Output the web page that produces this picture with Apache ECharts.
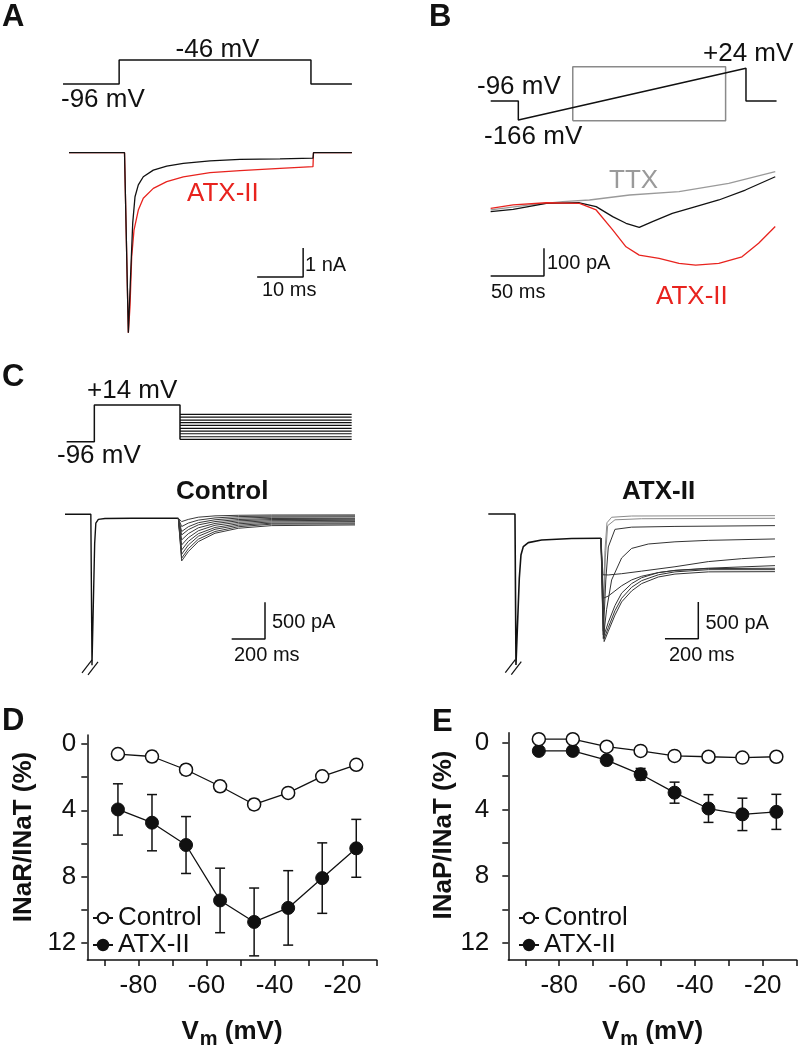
<!DOCTYPE html>
<html><head><meta charset="utf-8">
<script src="https://cdn.jsdelivr.net/npm/echarts@6/dist/echarts.min.js"></script>
<style>html,body{margin:0;padding:0;background:#fff}#c{width:800px;height:1050px}</style>
</head><body><div id="c"></div>
<script>
// ---------- Panel A (ms, mV / nA) ----------
const aStepT = [-1.3, 10.9, 10.9, 52.6, 52.6, 61.5];
const aStepV = [-96, -96, -46, -46, -96, -96];
const aCtrlT = [0, 12.07, 12.9, 13.41, 13.85, 14.35, 15.07, 16.15, 18.33, 21.24, 24.85, 30.65, 37.17, 45.87, 53.04, 53.15, 61.5];
const aCtrlI = [0, 0, -6.21, -4.16, -2.43, -1.52, -1.11, -0.83, -0.60, -0.46, -0.37, -0.28, -0.23, -0.21, -0.19, 0, 0];
const aAtxT = [0, 12.07, 12.9, 13.26, 13.63, 14.13, 15.07, 16.15, 18.33, 21.24, 24.85, 30.65, 37.17, 45.87, 53.04, 53.15, 61.5];
const aAtxI = [0, 0, -6.21, -5.31, -3.59, -2.67, -1.98, -1.57, -1.23, -1.0, -0.83, -0.69, -0.62, -0.54, -0.48, 0, 0];
const aBarT = [40.9, 50.9, 50.9];
const aBarI = [-4.29, -4.29, -3.29];

// ---------- Panel B (ms, mV / pA) ----------
const bRampT = [0, 48.8, 48.8, 451, 451, 505];
const bRampV = [-96, -96, -166, 24, -96, -96];
const bBoxT = [145, 415, 415, 145, 145];
const bBoxV = [-169, -169, 30, 30, -169];
const bTtxT = [0, 36.7, 67.7, 92.6, 130.3, 176.6, 223.2, 266.8];
const bTtxI = [-6, 12, 24, 30, 48, 60, 90, 132];
const bCtrlT = [0, 21.1, 52.2, 83.3, 98.9, 114.4, 126.9, 139.3, 151.7, 170.3, 192.2, 213.9, 238.8, 266.8];
const bCtrlI = [-12, -4, 18, 20, 6, -30, -54, -69, -48, -18, 6, 30, 66, 114];
const bAtxT = [0, 21.1, 52.2, 83.3, 98.9, 114.4, 126.9, 139.3, 157.9, 176.6, 192.2, 213.9, 235.6, 251.2, 266.8];
const bAtxI = [0, 12, 20, 18, -6, -78, -139, -169, -181, -199, -205, -199, -175, -126, -66];
const bBarT = [0, 50, 50];
const bBarI = [-244, -244, -144];

// ---------- Panel C (ms, mV / pA) ----------
const cStepT = [10, 176, 176, 690, 690];
const cStepV = [-96, -96, 14, 14, -89];
const cLevels = [-89, -81, -72, -64, -56, -47, -39, -31, -22, -14];
const cLevelT = [690, 1720];
const cCtrlPreT = [0, 155, 162, 168, 178, 185, 200, 240, 400, 680];
const cCtrlPreI = [0, 0, -2060, -2060, -400, -120, -70, -58, -55, -55];
const cCtrlTailT = [680, 700, 740, 800, 900, 1040, 1240, 1740];
const cCtrlTails = [
  [-55, -637, -509, -373, -259, -191, -155, -146],
  [-55, -600, -470, -340, -235, -170, -135, -132],
  [-55, -546, -420, -300, -205, -150, -122, -118],
  [-55, -487, -370, -265, -180, -130, -105, -100],
  [-55, -418, -320, -225, -150, -110, -88, -82],
  [-55, -350, -265, -185, -125, -90, -72, -68],
  [-55, -282, -210, -145, -100, -72, -58, -55],
  [-55, -236, -170, -115, -75, -52, -40, -36],
  [-55, -168, -120, -80, -50, -32, -25, -23],
  [-55, -100, -70, -40, -22, -14, -10, -9]
];
const cAtxPreT = [0, 160, 166, 176, 186, 196, 210, 240, 320, 500, 676];
const cAtxPreI = [0, 0, -2060, -2060, -878, -559, -446, -391, -355, -335, -331];
const cAtxTails = [
  [[676,-331],[688,-1500],[700,-500],[712,-120],[740,-45],[860,-28],[1720,-23]],
  [[676,-331],[688,-1600],[702,-600],[716,-160],[760,-80],[920,-65],[1720,-59]],
  [[676,-331],[690,-1650],[705,-900],[720,-450],[760,-210],[860,-180],[1120,-170],[1720,-159]],
  [[676,-331],[690,-1700],[710,-1300],[740,-900],[800,-600],[860,-470],[960,-410],[1120,-380],[1320,-360],[1720,-341]],
  [[676,-331],[688,-830],[720,-832],[800,-815],[920,-780],[1120,-720],[1320,-650],[1520,-610],[1720,-582]],
  [[676,-331],[690,-1150],[720,-1120],[760,-1050],[800,-980],[860,-900],[920,-850],[1020,-800],[1120,-770],[1320,-740],[1720,-705]],
  [[676,-331],[695,-1741],[720,-1600],[760,-1380],[800,-1200],[860,-1050],[920,-950],[1020,-860],[1120,-820],[1320,-790],[1720,-787]],
  [[676,-331],[695,-1700],[720,-1550],[760,-1320],[800,-1150],[860,-1000],[920,-910],[1020,-830],[1120,-790],[1320,-760],[1720,-760]],
  [[676,-331],[695,-1650],[720,-1480],[760,-1250],[800,-1080],[860,-950],[920,-870],[1020,-800],[1120,-770],[1320,-745],[1720,-741]]
];
const cBreakA = [[102, -2165], [162, -1988]];
const cBreakB = [[138, -2192], [198, -2015]];
const cCtrlBarT = [1000, 1200, 1200];
const cAtxBarT = [1060, 1260, 1260];
const cBarI = [-1701, -1701, -1201];

// ---------- Panels D / E ----------
const vm = [-86, -76, -66, -56, -46, -36, -26, -16];
const dCtrl = [0.6, 0.75, 1.55, 2.55, 3.65, 2.95, 1.95, 1.25];
const dCtrlErr = [0.15, 0.3, 0.3, 0.3, 0.3, 0.15, 0.15, 0.1];
const dAtx = [3.95, 4.75, 6.1, 9.45, 10.75, 9.9, 8.1, 6.3];
const dAtxErr = [1.55, 1.7, 1.72, 1.95, 2.05, 2.25, 2.13, 1.75];
const eCtrl = [-0.2, -0.2, 0.25, 0.5, 0.8, 0.85, 0.9, 0.85];
const eCtrlErr = [0.1, 0.1, 0.1, 0.12, 0.12, 0.1, 0.1, 0.1];
const eAtx = [0.5, 0.5, 1.05, 1.9, 3.0, 3.95, 4.3, 4.15];
const eAtxErr = [0.15, 0.15, 0.2, 0.35, 0.63, 0.83, 0.97, 1.05];
const xTicks = [-90, -80, -70, -60, -50, -40, -30, -20, -10];
const xLabels = [-80, -60, -40, -20];
const yTicks = [0, 2, 4, 6, 8, 10, 12];
const yLabels = [0, 4, 8, 12];

const FONT = '"Liberation Sans", Arial, Helvetica, sans-serif';
const INK = '#111';
const RED = '#e8231e';
const zip = (a, b) => a.map((v, i) => [v, b[i]]);

const grids = [
  {left: 59.8, top: 52.3, width: 294.4, height: 38.4},   // 0 A V
  {left: 59.8, top: 138.2, width: 294.4, height: 203},   // 1 A I
  {left: 485.04, top: 64, width: 300, height: 59.84},    // 2 B V
  {left: 479.98, top: 166.75, width: 321.6, height: 113.57}, // 3 B I
  {left: 65, top: 403, width: 290, height: 40.1},        // 4 C V
  {left: 65, top: 499.6, width: 290, height: 183.25},    // 5 C ctrl
  {left: 488.3, top: 499.3, width: 290, height: 183.25}, // 6 C atx
  {left: 87.3, top: 735, width: 289.4, height: 229},     // 7 D
  {left: 508.3, top: 732.7, width: 288.4, height: 230.6} // 8 E
];
const ranges = [
  [[-2, 62], [-110, -30]],
  [[-2, 62], [-6.5, 0.5]],
  [[-10, 520], [-180, 40]],
  [[-10, 290], [-260, 150]],
  [[0, 1740], [-100, 20]],
  [[0, 1740], [-2300, 200]],
  [[0, 1740], [-2300, 200]]
];
const xAxes = [], yAxes = [];
ranges.forEach((r, i) => {
  xAxes.push({gridIndex: i, type: 'value', min: r[0][0], max: r[0][1], show: false});
  yAxes.push({gridIndex: i, type: 'value', min: r[1][0], max: r[1][1], show: false});
});
function plotAxes(gi, ymin, ymax, labMargin) {
  const ax = {lineStyle: {color: INK, width: 1.5}};
  xAxes.push({gridIndex: gi, type: 'value', min: -95, max: -10,
    axisLine: {show: true, onZero: false, lineStyle: ax.lineStyle},
    axisTick: {show: true, customValues: xTicks, length: 6, lineStyle: ax.lineStyle},
    axisLabel: {customValues: xLabels, fontSize: 26, color: INK, fontFamily: FONT, margin: 13},
    splitLine: {show: false},
    name: '{b|V}{s|m}{b| (mV)}', nameLocation: 'middle', nameGap: 59,
    nameTextStyle: {rich: {
      b: {fontSize: 26, fontWeight: 'bold', fontFamily: FONT, color: INK, verticalAlign: 'top', lineHeight: 30},
      s: {fontSize: 20, fontWeight: 'bold', fontFamily: FONT, color: INK, verticalAlign: 'top', lineHeight: 22, padding: [10, 0, 0, 1]}
    }}});
  yAxes.push({gridIndex: gi, type: 'value', min: ymin, max: ymax, inverse: true,
    axisLine: {show: true, onZero: false, lineStyle: ax.lineStyle},
    axisTick: {show: true, customValues: yTicks, length: 6, lineStyle: ax.lineStyle},
    axisLabel: {customValues: yLabels, fontSize: 26, color: INK, fontFamily: FONT, margin: labMargin},
    splitLine: {show: false}});
}
plotAxes(7, -0.55, 13.05, 11);
plotAxes(8, -0.59, 13.02, 19);

const series = [];
function trace(gi, data, color, width) {
  series.push({type: 'line', xAxisIndex: gi, yAxisIndex: gi, data, symbol: 'none',
    lineStyle: {color, width}, silent: true, animation: false, z: 2});
}
// A
trace(0, zip(aStepT, aStepV), INK, 1.5);
trace(1, zip(aAtxT, aAtxI), RED, 1.3);
trace(1, zip(aCtrlT, aCtrlI), INK, 1.3);
trace(1, zip(aBarT, aBarI), INK, 1.5);
// B
trace(2, zip(bBoxT, bBoxV), '#8a8a8a', 1.5);
trace(2, zip(bRampT, bRampV), INK, 1.5);
trace(3, zip(bTtxT, bTtxI), '#9a9a9a', 1.3);
trace(3, zip(bCtrlT, bCtrlI), INK, 1.3);
trace(3, zip(bAtxT, bAtxI), RED, 1.3);
trace(3, zip(bBarT, bBarI), INK, 1.5);
// C
trace(4, zip(cStepT, cStepV), INK, 1.5);
cLevels.forEach(L => trace(4, cLevelT.map(t => [t, L]), INK, 1.2));
trace(5, zip(cCtrlPreT, cCtrlPreI), INK, 1.4);
cCtrlTails.forEach(tr => trace(5, zip(cCtrlTailT, tr), '#3a3a3a', 1));
trace(6, zip(cAtxPreT, cAtxPreI), INK, 1.6);
cAtxTails.forEach((tr, i) => trace(6, tr, i < 2 ? '#8a8a8a' : '#333', 1));
[5, 6].forEach(gi => { trace(gi, cBreakA, INK, 1.2); trace(gi, cBreakB, INK, 1.2); });
trace(5, zip(cCtrlBarT, cBarI), INK, 1.5);
trace(6, zip(cAtxBarT, cBarI), INK, 1.5);

// D / E
function errBars(gi, mean, err) {
  series.push({type: 'custom', xAxisIndex: gi, yAxisIndex: gi, silent: true, animation: false, z: 3,
    data: vm.map((v, i) => [v, mean[i], err[i]]),
    renderItem: (p, api) => {
      const x = api.value(0), y = api.value(1), e = api.value(2);
      const a = api.coord([x, y - e]), b = api.coord([x, y + e]);
      const st = {stroke: INK, lineWidth: 1.5};
      return {type: 'group', children: [
        {type: 'line', shape: {x1: a[0], y1: a[1], x2: b[0], y2: b[1]}, style: st},
        {type: 'line', shape: {x1: a[0] - 5, y1: a[1], x2: a[0] + 5, y2: a[1]}, style: st},
        {type: 'line', shape: {x1: b[0] - 5, y1: b[1], x2: b[0] + 5, y2: b[1]}, style: st}
      ]};
    }});
}
function pts(gi, name, mean, filled) {
  series.push({type: 'line', name, xAxisIndex: gi, yAxisIndex: gi, data: zip(vm, mean),
    symbol: 'circle', symbolSize: 13, showSymbol: true, animation: false, z: filled ? 4 : 5,
    lineStyle: {color: INK, width: 1.3},
    itemStyle: filled ? {color: INK, borderColor: INK, borderWidth: 1} : {color: '#fff', borderColor: INK, borderWidth: 1.5}});
}
errBars(7, dAtx, dAtxErr); errBars(7, dCtrl, dCtrlErr);
pts(7, 'ATX-II', dAtx, true); pts(7, 'Control', dCtrl, false);
errBars(8, eAtx, eAtxErr); errBars(8, eCtrl, eCtrlErr);
pts(8, 'ATX-II', eAtx, true); pts(8, 'Control', eCtrl, false);

const legendBase = {data: ['Control', 'ATX-II'], orient: 'vertical', selectedMode: false,
  itemWidth: 20, itemHeight: 13, itemGap: 1, padding: 0,
  textStyle: {fontSize: 26, color: INK, fontFamily: FONT, lineHeight: 26}};

function T(text, x, y, size, o = {}) {
  return {type: 'text', x, y, silent: true, rotation: o.rot || 0,
    style: {text, fontSize: size, fontFamily: FONT, fontWeight: o.bold ? 'bold' : 'normal',
      fill: o.color || INK, align: o.align || 'left', verticalAlign: 'middle'}};
}
const graphics = [
  T('A', 2, 17, 31, {bold: true}),
  T('-46 mV', 217.5, 49.5, 26, {align: 'center'}),
  T('-96 mV', 61, 99.5, 26),
  T('ATX-II', 187, 194, 26, {color: RED}),
  T('1 nA', 305, 265.5, 20),
  T('10 ms', 262, 290.5, 20),
  T('B', 429, 17, 31, {bold: true}),
  T('-96 mV', 477, 86.5, 26),
  T('-166 mV', 484, 136.5, 26),
  T('+24 mV', 703, 54, 26),
  T('TTX', 609, 180.5, 26, {color: '#9a9a9a'}),
  T('100 pA', 547, 263, 20),
  T('50 ms', 491, 292, 20),
  T('ATX-II', 656, 296.5, 26, {color: RED}),
  T('C', 2, 377, 31, {bold: true}),
  T('+14 mV', 87, 391, 26),
  T('-96 mV', 57, 455.5, 26),
  T('Control', 176, 492, 26, {bold: true}),
  T('ATX-II', 622, 492, 26, {bold: true}),
  T('500 pA', 272, 622, 20),
  T('200 ms', 234, 655.5, 20),
  T('500 pA', 705.5, 623, 20),
  T('200 ms', 669, 655.5, 20),
  T('D', 2, 721, 31, {bold: true}),
  T('E', 432, 722, 31, {bold: true}),
  T('INaR/INaT (%)', 23.5, 837, 26, {bold: true, align: 'center', rot: Math.PI / 2}),
  T('INaP/INaT (%)', 443.5, 835, 26, {bold: true, align: 'center', rot: Math.PI / 2})
];

const chart = echarts.init(document.getElementById('c'), null, {renderer: 'canvas'});
chart.setOption({
  animation: false,
  backgroundColor: '#fff',
  grid: grids,
  xAxis: xAxes,
  yAxis: yAxes,
  legend: [Object.assign({left: 92, top: 905}, legendBase), Object.assign({left: 518, top: 905}, legendBase)],
  graphic: graphics,
  series
});
</script></body></html>
